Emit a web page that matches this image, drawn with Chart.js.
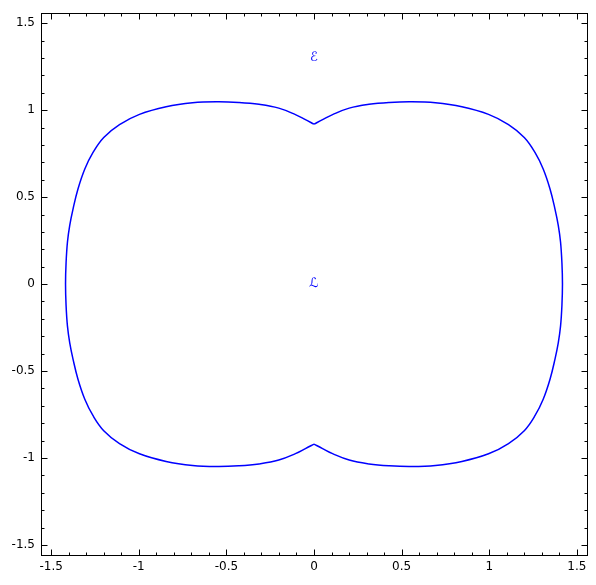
<!DOCTYPE html>
<html>
<head>
<meta charset="utf-8">
<script src="https://cdn.jsdelivr.net/npm/chart.js@4.4.1/dist/chart.umd.min.js"></script>
<style>
  body { margin: 0; background: #fff; }
  #wrap { width: 596px; height: 585px; }
</style>
</head>
<body>
<div id="wrap"><canvas id="curveChart" width="596" height="585"></canvas></div>
<script>
// valori: meta destra e meta sinistra della curva (da cuspide a cuspide)
const rightX = [0, 0.049, 0.106, 0.201, 0.314, 0.43, 0.551, 0.693, 0.844, 0.996, 1.110, 1.200, 1.261, 1.308, 1.347, 1.375, 1.394, 1.407, 1.415, 1.418,
                1.415, 1.407, 1.394, 1.375, 1.347, 1.308, 1.261, 1.200, 1.110, 0.996, 0.844, 0.693, 0.551, 0.43, 0.314, 0.201, 0.106, 0.049, 0];
const leftX = [0, -0.049, -0.106, -0.201, -0.314, -0.43, -0.551, -0.693, -0.844, -0.996, -1.110, -1.200, -1.261, -1.308, -1.347, -1.375, -1.394, -1.407, -1.415, -1.418,
               -1.415, -1.407, -1.394, -1.375, -1.347, -1.308, -1.261, -1.200, -1.110, -0.996, -0.844, -0.693, -0.551, -0.43, -0.314, -0.201, -0.106, -0.049, 0];
const arcY = [0.920, 0.946, 0.975, 1.012, 1.034, 1.045, 1.049, 1.043, 1.020, 0.976, 0.917, 0.843, 0.757, 0.662, 0.547, 0.433, 0.338, 0.242, 0.12, 0,
              -0.12, -0.242, -0.338, -0.433, -0.547, -0.662, -0.757, -0.843, -0.917, -0.976, -1.020, -1.043, -1.049, -1.045, -1.034, -1.012, -0.975, -0.946, -0.920];

// etichette nel grafico
const labelText = ['\u2130', '\u2112'];
const labelX = [0, 0];
const labelY = [1.3, 0];

// tacche degli assi
const majorTicks = [-1.5, -1, -0.5, 0, 0.5, 1, 1.5];
const minorTicks = [-1.5, -1.4, -1.3, -1.2, -1.1, -1, -0.9, -0.8, -0.7, -0.6, -0.5, -0.4, -0.3, -0.2, -0.1, 0,
                    0.1, 0.2, 0.3, 0.4, 0.5, 0.6, 0.7, 0.8, 0.9, 1, 1.1, 1.2, 1.3, 1.4, 1.5];
const axisMin = -1.558;
const axisMax = 1.558;

function toPoints(xs, ys) {
  return xs.map((x, i) => ({ x: x, y: ys[i] }));
}

// cornice e tacche rivolte verso l'interno, piu le etichette
const framePlugin = {
  id: 'frame',
  afterDraw(chart) {
    const c = chart.ctx;
    const a = chart.chartArea;
    const xs = chart.scales.x;
    const ys = chart.scales.y;
    const L = Math.round(a.left) + 0.5, R = Math.round(a.right) + 0.5;
    const T = Math.round(a.top) + 0.5, B = Math.round(a.bottom) + 0.5;
    c.save();
    c.strokeStyle = '#000';
    c.lineWidth = 1;
    c.strokeRect(L, T, R - L, B - T);
    c.beginPath();
    minorTicks.forEach(v => {
      const len = majorTicks.includes(v) ? 6 : 3;
      const px = Math.round(xs.getPixelForValue(v)) + 0.5;
      c.moveTo(px, B); c.lineTo(px, B - len);
      c.moveTo(px, T); c.lineTo(px, T + len);
      const py = Math.round(ys.getPixelForValue(v)) + 0.5;
      c.moveTo(L, py); c.lineTo(L + len, py);
      c.moveTo(R, py); c.lineTo(R - len, py);
    });
    c.stroke();

    c.fillStyle = '#0000ff';
    c.font = '13px "DejaVu Sans"';
    c.textAlign = 'center';
    c.textBaseline = 'middle';
    labelText.forEach((t, i) => {
      c.fillText(t, xs.getPixelForValue(labelX[i]), ys.getPixelForValue(labelY[i]));
    });
    c.restore();
  }
};

const tickFont = { family: 'DejaVu Sans', size: 12 };

const ctx = document.getElementById('curveChart').getContext('2d');
const curveChart = new Chart(ctx, {
  type: 'scatter',
  data: {
    datasets: [
      { data: toPoints(rightX, arcY), showLine: true, borderColor: '#0000ff', borderWidth: 1.5, pointRadius: 0, tension: 0.4, fill: false },
      { data: toPoints(leftX, arcY), showLine: true, borderColor: '#0000ff', borderWidth: 1.5, pointRadius: 0, tension: 0.4, fill: false }
    ]
  },
  options: {
    responsive: false,
    animation: false,
    layout: { padding: { top: 10, right: 9, left: 0, bottom: 0 } },
    plugins: { legend: { display: false }, tooltip: { enabled: false } },
    scales: {
      x: {
        type: 'linear',
        min: axisMin,
        max: axisMax,
        grid: { display: false, drawTicks: false },
        border: { display: false },
        afterBuildTicks: s => { s.ticks = majorTicks.map(v => ({ value: v })); },
        afterFit: s => { s.height = 30; },
        ticks: { color: '#000', font: tickFont, padding: 5, maxRotation: 0, callback: v => String(v) }
      },
      y: {
        type: 'linear',
        min: axisMin,
        max: axisMax,
        grid: { display: false, drawTicks: false },
        border: { display: false },
        afterBuildTicks: s => { s.ticks = majorTicks.map(v => ({ value: v })); },
        afterFit: s => { s.width = 41; },
        ticks: { color: '#000', font: tickFont, padding: 6, callback: v => String(v) }
      }
    }
  },
  plugins: [framePlugin]
});
</script>
</body>
</html>
